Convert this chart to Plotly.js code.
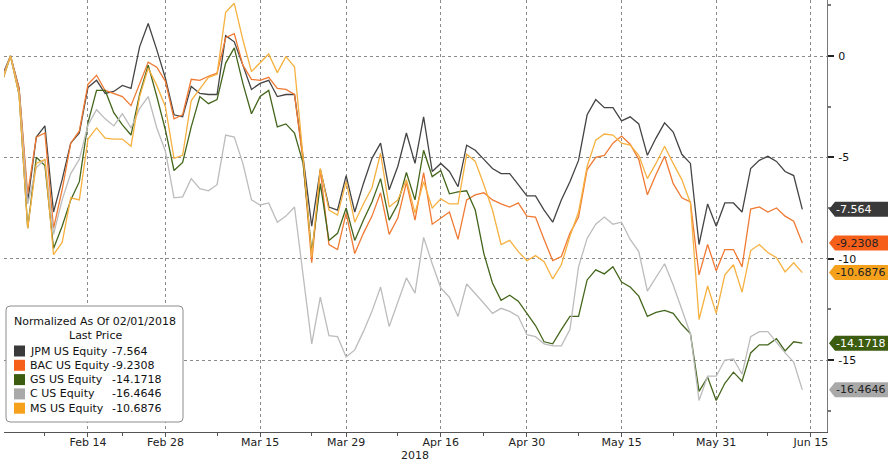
<!DOCTYPE html>
<html><head><meta charset="utf-8">
<script src="https://cdn.plot.ly/plotly-3.0.1.min.js"></script>
<style>html,body{margin:0;padding:0;background:#fff;} #chart{width:890px;height:461px;}</style>
</head><body><div id="chart"></div>
<script>
// ---- data (trading days; normalized % change vs 02/01/2018) ----
const dates = ['2018-01-31',
 '2018-02-01','2018-02-02','2018-02-05','2018-02-06','2018-02-07','2018-02-08','2018-02-09','2018-02-12','2018-02-13','2018-02-14',
 '2018-02-15','2018-02-16','2018-02-20','2018-02-21','2018-02-22','2018-02-23','2018-02-26','2018-02-27','2018-02-28',
 '2018-03-01','2018-03-02','2018-03-05','2018-03-06','2018-03-07','2018-03-08','2018-03-09','2018-03-12','2018-03-13','2018-03-14','2018-03-15',
 '2018-03-16','2018-03-19','2018-03-20','2018-03-21','2018-03-22','2018-03-23','2018-03-26','2018-03-27','2018-03-28','2018-03-29',
 '2018-04-02','2018-04-03','2018-04-04','2018-04-05','2018-04-06','2018-04-09','2018-04-10','2018-04-11','2018-04-12','2018-04-13',
 '2018-04-16','2018-04-17','2018-04-18','2018-04-19','2018-04-20','2018-04-23','2018-04-24','2018-04-25','2018-04-26','2018-04-27',
 '2018-04-30','2018-05-01','2018-05-02','2018-05-03','2018-05-04','2018-05-07','2018-05-08','2018-05-09','2018-05-10','2018-05-11',
 '2018-05-14','2018-05-15','2018-05-16','2018-05-17','2018-05-18','2018-05-21','2018-05-22','2018-05-23','2018-05-24','2018-05-25',
 '2018-05-29','2018-05-30','2018-05-31','2018-06-01','2018-06-04','2018-06-05','2018-06-06','2018-06-07','2018-06-08','2018-06-11',
 '2018-06-12','2018-06-13','2018-06-14'];

const jpm = [-1.0,
 0, -1.6, -7.2, -4.0, -3.45, -7.7, -6.1, -4.3, -3.8, -1.55,
 -1.2, -1.85, -1.75, -1.45, -1.6, 0.45, 1.6, 0.3, -1.1,
 -2.9, -3.0, -1.5, -1.85, -1.9, -1.9, 1.0, 0.7, -0.45, -1.65, -1.35,
 -1.2, -2.0, -1.9, -1.9, -5.0, -8.4, -5.6, -7.45, -7.6, -5.9,
 -7.7, -6.3, -5.05, -4.3, -6.6, -5.45, -3.8, -5.3, -3.0, -5.7,
 -5.3, -5.7, -6.45, -4.4, -4.65, -5.1, -5.55, -5.8, -5.8, -6.35,
 -6.9, -6.9, -7.6, -8.2, -7.1, -6.2, -5.15, -2.9, -2.15, -2.55,
 -2.55, -3.2, -3.0, -3.35, -4.9, -4.05, -3.3, -3.75, -4.85, -5.3,
 -9.3, -7.3, -8.4, -7.25, -7.25, -7.7, -5.55, -5.15, -4.95, -5.2,
 -5.7, -5.9, -7.564];

const bac = [-1.1,
 0, -1.6, -6.8, -4.0, -3.8, -8.5, -6.6, -4.3, -3.7, -1.4,
 -0.95, -1.7, -1.85, -2.0, -2.45, -1.35, -0.3, -0.55, -1.25,
 -3.1, -2.9, -1.15, -1.2, -1.0, -0.85, 0.9, 1.1, -0.45, -1.15, -1.2,
 -1.05, -1.6, -1.65, -1.9, -5.2, -10.2, -5.6, -9.3, -9.55, -7.75,
 -9.75, -8.75, -7.9, -6.75, -8.8, -8.0, -6.25, -8.1, -5.75, -8.3,
 -8.0, -7.7, -9.05, -7.1, -6.85, -6.75, -7.1, -7.3, -7.45, -7.25,
 -7.9, -7.95, -9.05, -10.1, -9.9, -8.75, -7.95, -5.6, -5.0, -4.9,
 -4.3, -3.95, -4.35, -5.1, -6.85, -5.85, -4.95, -6.3, -7.0, -7.2,
 -10.8, -9.3, -10.6, -9.55, -9.55, -10.4, -7.55, -7.45, -7.7, -7.5,
 -7.9, -8.15, -9.2308];

const gs = [-1.3,
 0, -1.9, -8.5, -5.0, -5.4, -9.5, -8.4, -7.1, -6.2, -3.3,
 -1.7, -1.7, -2.8, -3.4, -3.9, -1.9, -0.45, -2.0, -3.65,
 -5.65, -5.25, -3.5, -2.0, -2.35, -2.15, -0.35, 0.4, -1.35, -2.85, -2.0,
 -1.7, -3.5, -3.35, -3.8, -5.3, -9.7, -6.3, -9.1, -8.75, -7.5,
 -9.1, -8.1, -7.2, -6.05, -8.1, -7.3, -5.75, -7.1, -4.65, -5.95,
 -5.65, -6.8, -6.7, -6.65, -7.6, -9.75, -11.2, -12.05, -11.8, -12.1,
 -12.7, -13.3, -14.1, -14.2, -13.5, -12.85, -12.85, -11.05, -10.55, -10.75,
 -10.4, -11.15, -11.4, -11.85, -12.85, -12.65, -12.55, -12.7, -13.25, -13.7,
 -16.55, -15.85, -17.0, -16.15, -15.6, -16.05, -14.65, -14.25, -14.25, -13.95,
 -14.55, -14.1, -14.1718];

const citi = [-1.2,
 0, -1.8, -7.3, -5.5, -5.1, -8.8, -7.1, -5.8, -5.1, -3.4,
 -2.65, -3.1, -3.45, -2.85, -3.55, -2.6, -2.0, -3.55, -4.7,
 -7.0, -6.95, -6.05, -6.55, -6.65, -6.35, -3.9, -4.0, -5.3, -7.1, -7.35,
 -7.25, -8.2, -7.9, -7.45, -10.7, -14.2, -11.9, -13.8, -13.85, -14.85,
 -14.5, -13.6, -12.6, -11.4, -13.35, -12.2, -10.95, -11.7, -8.95, -10.25,
 -11.45, -11.9, -12.85, -11.25, -11.7, -12.2, -12.7, -12.45, -12.6, -12.85,
 -13.75, -13.85, -14.2, -14.3, -14.3, -13.5, -10.4, -9.0, -8.3, -7.95,
 -8.3, -8.2, -9.05, -9.65, -11.6, -10.95, -10.25, -11.3, -12.55, -13.7,
 -17.0, -15.8, -15.8, -15.0, -14.95, -15.7, -13.85, -13.6, -13.6, -14.15,
 -14.65, -15.1, -16.4646];

const ms = [-1.3,
 0, -1.9, -8.5, -5.3, -5.1, -9.8, -9.2, -7.0, -7.1, -4.1,
 -3.55, -4.05, -4.1, -4.1, -4.45, -2.0, -0.6, -1.45, -2.5,
 -5.05, -4.9, -2.2, -1.6, -1.05, -0.9, 2.15, 2.6, 0.8, -0.77, -0.36,
 0.1, -0.82, -0.03, -0.53, -5.0, -9.9, -5.55, -7.6, -7.85, -6.2,
 -8.2, -7.3, -6.5, -4.8, -7.45, -7.1, -6.1, -7.75, -6.2, -7.5,
 -7.05, -7.3, -7.3, -4.85, -5.2, -6.35, -7.6, -9.3, -9.1, -9.65,
 -10.1, -9.85, -10.15, -11.0, -10.3, -8.9, -7.7, -5.45, -4.15, -3.85,
 -3.9, -4.3, -4.4, -4.9, -6.05, -5.3, -4.45, -5.3, -6.1, -7.25,
 -13.0, -11.35, -12.7, -10.8, -10.3, -11.65, -9.6, -9.3, -9.7, -9.95,
 -10.65, -10.2, -10.6876];

const seriesNames = ['JPM US Equity', 'BAC US Equity', 'GS US Equity', 'C US Equity', 'MS US Equity'];
const seriesValues = [jpm, bac, gs, citi, ms];

const xTickVals = ['2018-02-14','2018-02-28','2018-03-15','2018-03-29','2018-04-16','2018-04-30','2018-05-15','2018-05-31','2018-06-15'];
const xTickText = ['Feb 14','Feb 28','Mar 15','Mar 29','Apr 16','Apr 30','May 15','May 31','Jun 15'];
const xMinorVals = ['2018-02-07','2018-02-21','2018-03-08','2018-03-23','2018-04-09','2018-04-23','2018-05-08','2018-05-23','2018-06-08'];
const holidays = ['2018-02-19','2018-03-30','2018-05-28'];
const yTickVals = [0, -5, -10, -15];
const yTickText = ['0', '-5', '-10', '-15'];
const yMinorVals = [2.5, -2.5, -7.5, -12.5, -17.5];
const legendTitle = 'Normalized As Of 02/01/2018';
const legendSub = 'Last Price';
const yearLabel = '2018';

// ---- styles ----
const lineColors = ['#444444', '#f07a33', '#44661c', '#bcbcbc', '#f6b140'];
const tagColors  = ['#3a3a3a', '#f55f1a', '#3c5c10', '#a9a9a9', '#f6a11c'];
const tagFont    = ['#ffffff', '#222222', '#ffffff', '#222222', '#222222'];
const FONT = 'DejaVu Sans, Verdana, sans-serif';

const W = 890, H = 461, ML = 4, MR = 63, MT = 0, MB = 29;
const PW = W - ML - MR, PH = H - MT - MB;
const YR = [-18.552, 2.763];
const PX = px => (px - ML) / PW;
const PY = py => (MT + PH - py) / PH;
const upp = (YR[1] - YR[0]) / PH; // units per px

const traces = seriesValues.map((vals, i) => ({
  type: 'scatter', mode: 'lines', x: dates, y: vals, name: seriesNames[i],
  line: {color: lineColors[i], width: 1.3}, showlegend: false, hoverinfo: 'skip'
}));

const shapes = [], annotations = [];

// right-side last-value tags
seriesValues.forEach((vals, i) => {
  const v = vals[vals.length - 1];
  const h = 7.5 * upp;
  shapes.push({
    type: 'path', xref: 'paper', yref: 'y', layer: 'above',
    path: `M ${PX(829)},${v} L ${PX(835)},${v + h} L ${PX(888)},${v + h} L ${PX(888)},${v - h} L ${PX(835)},${v - h} Z`,
    fillcolor: tagColors[i], line: {width: 0}
  });
  annotations.push({
    xref: 'paper', yref: 'y', x: PX(834), y: v, xanchor: 'left', yanchor: 'middle',
    text: String(v), showarrow: false, font: {family: FONT, size: 11, color: tagFont[i]}
  });
});

// legend box
(function () {
  const x0 = 6, y0 = 306, x1 = 183, y1 = 422, r = 4;
  const rx = r / PW, ry = r / PH;
  const L = PX(x0), R = PX(x1), T = PY(y0), B = PY(y1);
  shapes.push({
    type: 'path', xref: 'paper', yref: 'paper', layer: 'above',
    path: `M ${L + rx},${T} L ${R - rx},${T} Q ${R},${T} ${R},${T - ry} L ${R},${B + ry} Q ${R},${B} ${R - rx},${B} L ${L + rx},${B} Q ${L},${B} ${L},${B + ry} L ${L},${T - ry} Q ${L},${T} ${L + rx},${T} Z`,
    fillcolor: '#ffffff', line: {color: '#8c8c8c', width: 1}
  });
})();
annotations.push({xref: 'paper', yref: 'paper', x: PX(95), y: PY(321), xanchor: 'center', yanchor: 'middle',
  text: legendTitle, showarrow: false, font: {family: FONT, size: 11, color: '#111'}});
annotations.push({xref: 'paper', yref: 'paper', x: PX(95), y: PY(335), xanchor: 'center', yanchor: 'middle',
  text: legendSub, showarrow: false, font: {family: FONT, size: 11, color: '#111'}});
seriesValues.forEach((vals, i) => {
  const cy = 351 + 14.3 * i;
  shapes.push({type: 'rect', xref: 'paper', yref: 'paper', layer: 'above',
    x0: PX(14), x1: PX(25), y0: PY(cy - 5.5), y1: PY(cy + 5.5), fillcolor: tagColors[i], line: {width: 0}});
  annotations.push({xref: 'paper', yref: 'paper', x: PX(28), y: PY(cy), xanchor: 'left', yanchor: 'middle',
    text: seriesNames[i], showarrow: false, font: {family: FONT, size: 11, color: '#111'}});
  annotations.push({xref: 'paper', yref: 'paper', x: PX(110), y: PY(cy), xanchor: 'left', yanchor: 'middle',
    text: String(vals[vals.length - 1]), showarrow: false, font: {family: FONT, size: 11, color: '#111'}});
});

annotations.push({xref: 'paper', yref: 'paper', x: PX(415), y: PY(455), xanchor: 'center', yanchor: 'middle',
  text: yearLabel, showarrow: false, font: {family: FONT, size: 11, color: '#222'}});

const layout = {
  width: W, height: H,
  margin: {l: ML, r: MR, t: MT, b: MB, pad: 0},
  paper_bgcolor: '#ffffff', plot_bgcolor: '#ffffff',
  font: {family: FONT, size: 11, color: '#222'},
  showlegend: false,
  xaxis: {
    type: 'date',
    range: ['2018-01-31 05:53', '2018-06-18 20:53'],
    rangebreaks: [{bounds: ['sat', 'mon']}, {values: holidays}],
    tickmode: 'array', tickvals: xTickVals, ticktext: xTickText,
    ticks: 'outside', ticklen: 4, tickwidth: 1, tickcolor: '#555',
    ticklabelstandoff: -4,
    showline: true, linecolor: '#555', linewidth: 1,
    showgrid: true, gridcolor: '#8a8a8a', gridwidth: 1, griddash: 'dot',
    zeroline: false,
    tickfont: {family: FONT, size: 11, color: '#222'},
    minor: {tickmode: 'array', tickvals: xMinorVals, ticks: 'outside', ticklen: 3, tickcolor: '#555', showgrid: false}
  },
  yaxis: {
    side: 'right', range: YR,
    tickmode: 'array', tickvals: yTickVals, ticktext: yTickText,
    ticks: 'outside', ticklen: 6, tickwidth: 2, tickcolor: '#222',
    ticklabelstandoff: 2,
    showline: true, linecolor: '#777', linewidth: 1,
    showgrid: true, gridcolor: '#8a8a8a', gridwidth: 1, griddash: 'dot',
    zeroline: false,
    tickfont: {family: FONT, size: 11, color: '#111'},
    minor: {tickmode: 'array', tickvals: yMinorVals, ticks: 'outside', ticklen: 3, tickcolor: '#777', showgrid: false}
  },
  shapes: shapes,
  annotations: annotations
};

Plotly.newPlot('chart', traces, layout, {staticPlot: true, displayModeBar: false});
</script>
</body></html>
